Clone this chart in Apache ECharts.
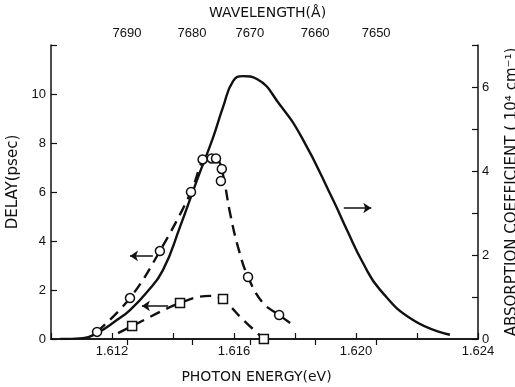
<!DOCTYPE html>
<html>
<head>
<meta charset="utf-8">
<script src="https://cdn.jsdelivr.net/npm/echarts@6/dist/echarts.min.js"></script>
<style>
  html, body { margin: 0; padding: 0; background: #fff; }
  #chart { width: 515px; height: 387px; }
</style>
</head>
<body>
<div id="chart"></div>
<script>
// absorption coefficient (right axis, 10^4 cm^-1) vs photon energy (eV)
const absEnergy = [1.6103, 1.61105, 1.61151, 1.61216, 1.61259, 1.61315, 1.61367, 1.61423, 1.61479, 1.61531,
  1.61564, 1.61597, 1.61630, 1.61675, 1.61751, 1.61823, 1.61925, 1.61970, 1.62023, 1.62079, 1.62187, 1.62308]
const absValue = [0, 0.02, 0.14, 0.45, 0.69, 1.12, 1.64, 2.67, 3.79, 4.79,
  5.52, 6.14, 6.26, 6.19, 5.57, 4.79, 3.31, 2.60, 1.81, 1.17, 0.45, 0.10]

// delay measurements, circles (psec)
const circleEnergy = [1.61151, 1.61259, 1.61357, 1.61459, 1.61497, 1.61527, 1.61541, 1.61560, 1.61557, 1.61646, 1.61748]
const circleDelay = [0.29, 1.67, 3.59, 6.0, 7.33, 7.37, 7.37, 6.94, 6.45, 2.53, 0.98]
// dashed fit through circles
const circleFitEnergy = [1.61151, 1.61259, 1.61357, 1.61459, 1.61498, 1.61521, 1.61548, 1.61564, 1.61587, 1.61613, 1.61646, 1.61695, 1.61748, 1.61784]
const circleFitDelay = [0.29, 1.67, 3.59, 6.0, 7.3, 7.45, 7.3, 6.7, 5.14, 3.76, 2.53, 1.47, 0.98, 0.65]

// delay measurements, squares (psec)
const squareEnergy = [1.61266, 1.61423, 1.61564, 1.61698]
const squareDelay = [0.53, 1.47, 1.63, 0]
const squareFitEnergy = [1.6122, 1.61266, 1.61423, 1.61521, 1.61564, 1.6163, 1.61698]
const squareFitDelay = [0.24, 0.53, 1.47, 1.76, 1.59, 0.78, 0]

// top axis: wavelength ticks and where they sit on the energy scale
const wavelengthLabels = [7690, 7680, 7670, 7660, 7650]
const wavelengthEnergy = [1.61249, 1.61462, 1.61652, 1.61866, 1.62066]

const zip = (a, b) => a.map((v, i) => [v, b[i]])

const chart = echarts.init(document.getElementById('chart'))
const font = 'Liberation Sans, Arial, sans-serif'
const titleFont = 'DejaVu Sans, sans-serif'
const black = '#111'

const arrowLine = {
  silent: true,
  symbol: ['none', 'arrow'],
  symbolSize: 8,
  label: { show: false },
  lineStyle: { color: black, width: 1.5, type: 'solid' }
}

const option = {
  animation: false,
  backgroundColor: '#fff',
  textStyle: { fontFamily: font, color: black },
  // keep the frame where it is, names may run to the page edge
  grid: { left: 51, right: 37, top: 45, bottom: 48, containLabel: false, outerBoundsMode: 'none' },
  xAxis: [
    {
      type: 'value',
      min: 1.610,
      max: 1.624,
      interval: 0.002,
      name: 'PHOTON ENERGY(eV)',
      nameLocation: 'middle',
      nameGap: 31,
      nameTextStyle: { fontSize: 14, color: black, fontFamily: titleFont, padding: [0, 16, 0, 0] },
      axisLine: { lineStyle: { color: black, width: 1.5 } },
      axisTick: { inside: true, length: 6, lineStyle: { color: black, width: 1.2 } },
      axisLabel: {
        fontSize: 13, color: black, margin: 6,
        formatter: v => {
          const m = Math.round(v * 1000)
          return m % 4 === 0 ? (m / 1000).toFixed(3) : ''
        }
      },
      splitLine: { show: false }
    },
    {
      type: 'value',
      position: 'top',
      min: 1.610,
      max: 1.624,
      name: 'WAVELENGTH(Å)',
      nameLocation: 'middle',
      nameGap: 25,
      nameTextStyle: { fontSize: 14, color: black, fontFamily: titleFont, padding: [0, 0, 0, 6] },
      axisLine: { lineStyle: { color: black, width: 1.5 } },
      axisTick: { inside: true, length: 6, customValues: wavelengthEnergy, lineStyle: { color: black, width: 1.2 } },
      axisLabel: {
        fontSize: 13, color: black, margin: 5,
        customValues: wavelengthEnergy,
        formatter: v => {
          const i = wavelengthEnergy.findIndex(e => Math.abs(e - v) < 1e-6)
          return i >= 0 ? String(wavelengthLabels[i]) : ''
        }
      },
      splitLine: { show: false }
    }
  ],
  yAxis: [
    {
      type: 'value',
      min: 0,
      max: 12,
      interval: 2,
      name: 'DELAY(psec)',
      nameLocation: 'middle',
      nameGap: 23,
      nameTextStyle: { fontSize: 15, color: black, fontFamily: titleFont, padding: [0, 0, 0, 20] },
      axisLine: { show: true, lineStyle: { color: black, width: 1.5 } },
      axisTick: { show: true, inside: true, length: 6, lineStyle: { color: black, width: 1.2 } },
      axisLabel: { fontSize: 13, color: black, margin: 5, formatter: v => (v === 12 ? '' : v) },
      splitLine: { show: false }
    },
    {
      type: 'value',
      position: 'right',
      min: 0,
      max: 7,
      interval: 1,
      name: 'ABSORPTION COEFFICIENT ( 10⁴ cm⁻¹)',
      nameLocation: 'middle',
      nameRotate: 90,
      nameGap: 27,
      nameTextStyle: { fontSize: 15, color: black, fontFamily: titleFont },
      axisLine: { show: true, lineStyle: { color: black, width: 1.5 } },
      axisTick: { show: true, inside: true, length: 6, lineStyle: { color: black, width: 1.2 } },
      axisLabel: { fontSize: 13, color: black, margin: 4, formatter: v => (v % 2 === 0 ? v : '') },
      splitLine: { show: false }
    }
  ],
  series: [
    {
      name: 'absorption',
      type: 'line',
      xAxisIndex: 0,
      yAxisIndex: 1,
      data: zip(absEnergy, absValue),
      smooth: 0.5,
      showSymbol: false,
      lineStyle: { color: black, width: 2.4 },
      markLine: Object.assign({}, arrowLine, {
        data: [[{ coord: [1.6196, 3.12] }, { coord: [1.6205, 3.12] }]]
      })
    },
    {
      name: 'circle fit',
      type: 'line',
      xAxisIndex: 0,
      yAxisIndex: 0,
      data: zip(circleFitEnergy, circleFitDelay),
      smooth: 0.4,
      showSymbol: false,
      lineStyle: { color: black, width: 2.4, type: [11, 7] },
      markLine: Object.assign({}, arrowLine, {
        data: [
          [{ coord: [1.61334, 3.39] }, { coord: [1.61259, 3.39] }],
          [{ coord: [1.61384, 1.35] }, { coord: [1.61298, 1.35] }]
        ]
      })
    },
    {
      name: 'square fit',
      type: 'line',
      xAxisIndex: 0,
      yAxisIndex: 0,
      data: zip(squareFitEnergy, squareFitDelay),
      smooth: 0.4,
      showSymbol: false,
      lineStyle: { color: black, width: 2.4, type: [11, 7] }
    },
    {
      name: 'circles',
      type: 'scatter',
      xAxisIndex: 0,
      yAxisIndex: 0,
      data: zip(circleEnergy, circleDelay),
      symbol: 'circle',
      symbolSize: 9,
      itemStyle: { color: '#fff', borderColor: black, borderWidth: 1.5, opacity: 1 },
      z: 5
    },
    {
      name: 'squares',
      type: 'scatter',
      xAxisIndex: 0,
      yAxisIndex: 0,
      data: zip(squareEnergy, squareDelay),
      symbol: 'rect',
      symbolSize: 9,
      itemStyle: { color: '#fff', borderColor: black, borderWidth: 1.5, opacity: 1 },
      z: 5
    }
  ]
}

chart.setOption(option)
</script>
</body>
</html>
